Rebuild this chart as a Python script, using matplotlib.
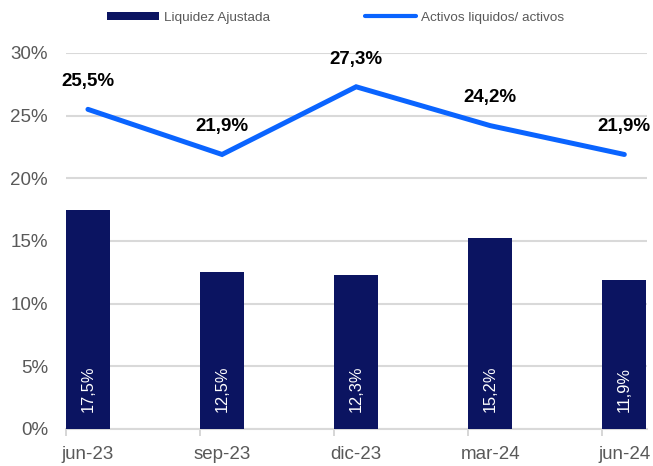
import matplotlib
matplotlib.use("Agg")
import matplotlib.pyplot as plt
import numpy as np
from matplotlib.patches import Patch
from matplotlib.lines import Line2D

categories = ["jun-23", "sep-23", "dic-23", "mar-24", "jun-24"]
liquidez_ajustada = [17.5, 12.5, 12.3, 15.2, 11.9]
activos_liquidos = [25.5, 21.9, 27.3, 24.2, 21.9]
yticks = [0, 5, 10, 15, 20, 25, 30]

bar_color = "#0B1461"
line_color = "#0A64FF"
grey = "#595959"

plt.rcParams['font.family'] = ['Liberation Sans', 'DejaVu Sans']

fig = plt.figure(figsize=(6.53, 4.66), dpi=100)
ax = fig.add_axes([0.101, 0.0794, 0.89, 0.807])

x = np.arange(len(categories))
w = 0.328
ax.bar(x, liquidez_ajustada, width=w, color=bar_color, zorder=3)
ax.plot(x, activos_liquidos, color=line_color, lw=3.6, zorder=4,
        solid_capstyle='round', solid_joinstyle='miter', clip_on=False)

def fmt(v):
    return f"{v:.1f}%".replace(".", ",")

for xi, v in zip(x, liquidez_ajustada):
    ax.annotate(fmt(v), (xi, 0), xytext=(0, 12.5), textcoords='offset points',
                rotation=90, ha='center', va='bottom', color='white',
                fontsize=11.8, zorder=5)
for xi, v in zip(x, activos_liquidos):
    ax.annotate(fmt(v), (xi, v), xytext=(0, 20), textcoords='offset points',
                ha='center', va='center', color='black', fontweight='bold',
                fontsize=13.5, zorder=5, annotation_clip=False)

ax.set_xlim(-w / 2, 4.17)
ax.set_ylim(0, 30)
ax.set_yticks(yticks)
ax.set_yticklabels([f"{t}%" for t in yticks])
ax.set_xticks(x)
ax.set_xticklabels(categories)
ax.set_xticks(x - w / 2, minor=True)
ax.tick_params(axis='x', which='major', length=0, pad=12, labelsize=13.5, labelcolor=grey)
ax.tick_params(axis='x', which='minor', length=5, width=1.2, color="#d0d0d0")
ax.tick_params(axis='y', length=0, pad=13, labelsize=13.5, labelcolor=grey)
ax.yaxis.grid(True, color="#d9d9d9", lw=1.5, zorder=0)
ax.set_axisbelow(True)
for s in ["top", "right", "left"]:
    ax.spines[s].set_visible(False)
ax.spines["bottom"].set_color("#d9d9d9")
ax.spines["bottom"].set_linewidth(1.5)

handles = [Patch(facecolor=bar_color, label="Liquidez Ajustada"),
           Line2D([0], [0], color=line_color, lw=3, solid_capstyle='round',
                  label="Activos liquidos/ activos")]
fig.legend(handles=handles, loc='center', bbox_to_anchor=(0.5145, 0.962), ncol=2,
           frameon=False, fontsize=9.7, labelcolor=grey, handlelength=3.85,
           handleheight=0.45, handletextpad=0.37, columnspacing=7.0,
           borderpad=0, borderaxespad=0)

fig.savefig("out.png", dpi=100)
